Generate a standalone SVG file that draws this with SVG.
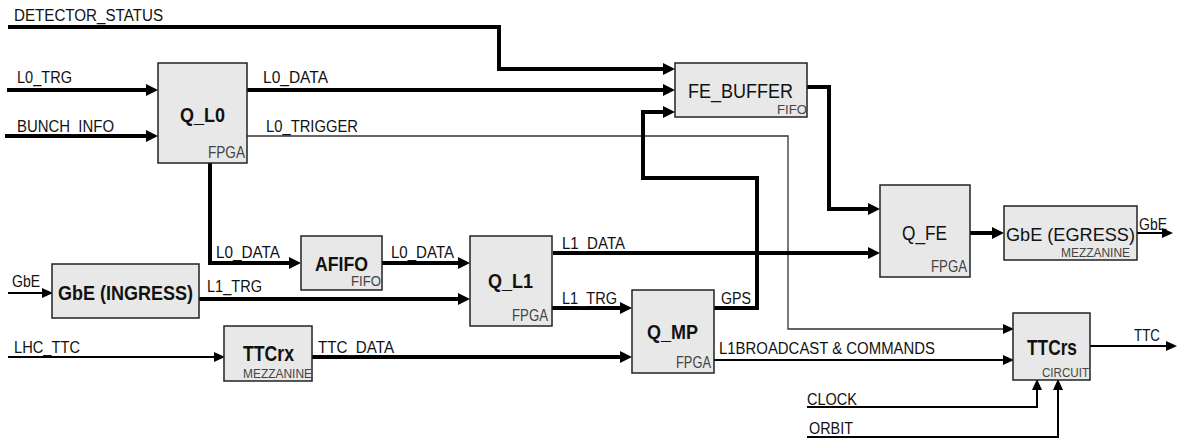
<svg xmlns="http://www.w3.org/2000/svg" width="1177" height="438" viewBox="0 0 1177 438">
<style>
text{font-family:"Liberation Sans",Arial,sans-serif;fill:#111}
.lbl{font-size:16px}
.ttl{font-size:21px;font-weight:bold}
.ttn{font-size:21px}
.sub{font-size:16px;fill:#444}
.box{fill:#e8e8e8;stroke:#222;stroke-width:1.5}
.thick{fill:none;stroke:#000;stroke-width:4;marker-end:url(#ah)}
.thin{fill:none;stroke:#000;stroke-width:2;marker-end:url(#ahs)}
.hair{fill:none;stroke:#333;stroke-width:1.3;marker-end:url(#ahs)}
</style>
<defs>
<marker id="ah" markerUnits="userSpaceOnUse" markerWidth="12" markerHeight="12" refX="6" refY="6" orient="auto" viewBox="0 0 12 12"><path d="M0,0 L12,6 L0,12 z" fill="#000"/></marker>
<marker id="ahs" markerUnits="userSpaceOnUse" markerWidth="11" markerHeight="10" refX="5" refY="5" orient="auto" viewBox="0 0 11 10"><path d="M0,0 L11,5 L0,10 z" fill="#000"/></marker>
</defs>
<g id="connectors">
<path class="thick" d="M8,27 H499 V69 H669"/>
<path class="thick" d="M7,90 H152"/>
<path class="thick" d="M5,136 H152"/>
<path class="thick" d="M247,90 H669"/>
<path class="hair" d="M247,136 H788 V329 H1008"/>
<path class="thick" d="M714,308 H757 V178 H643 V112 H669"/>
<path class="thick" d="M807,87 H829 V209 H874"/>
<path class="thick" d="M210,163 V263 H295"/>
<path class="thick" d="M382,263 H464"/>
<path class="thin" d="M8,293 H47"/>
<path class="thick" d="M199,299 H464"/>
<path class="thick" d="M553,253 H874"/>
<path class="thick" d="M552,308 H626"/>
<path class="thin" d="M8,357 H219"/>
<path class="thick" d="M312,357 H626"/>
<path class="thick" d="M970,233 H998"/>
<path class="thin" d="M1137,233 H1167"/>
<path class="thin" d="M714,360 H1008"/>
<path class="thin" d="M1090,346 H1171"/>
<path class="thin" d="M807,407 H1037 V385"/>
<path class="thin" d="M807,437 H1058 V385"/>
<text class="lbl" x="14" y="21" textLength="149" lengthAdjust="spacingAndGlyphs">DETECTOR_STATUS</text>
<text class="lbl" x="17" y="83" textLength="55" lengthAdjust="spacingAndGlyphs">L0_TRG</text>
<text class="lbl" x="17" y="132" textLength="97" lengthAdjust="spacingAndGlyphs">BUNCH_INFO</text>
<text class="lbl" x="263" y="83" textLength="65" lengthAdjust="spacingAndGlyphs">L0_DATA</text>
<text class="lbl" x="266" y="132" textLength="92" lengthAdjust="spacingAndGlyphs">L0_TRIGGER</text>
<text class="lbl" x="216" y="258" textLength="64" lengthAdjust="spacingAndGlyphs">L0_DATA</text>
<text class="lbl" x="391" y="258" textLength="63" lengthAdjust="spacingAndGlyphs">L0_DATA</text>
<text class="lbl" x="207" y="292" textLength="55" lengthAdjust="spacingAndGlyphs">L1_TRG</text>
<text class="lbl" x="12" y="287" textLength="28" lengthAdjust="spacingAndGlyphs">GbE</text>
<text class="lbl" x="14" y="353" textLength="66" lengthAdjust="spacingAndGlyphs">LHC_TTC</text>
<text class="lbl" x="318" y="353" textLength="76" lengthAdjust="spacingAndGlyphs">TTC_DATA</text>
<text class="lbl" x="562" y="249" textLength="63" lengthAdjust="spacingAndGlyphs">L1_DATA</text>
<text class="lbl" x="562" y="304" textLength="55" lengthAdjust="spacingAndGlyphs">L1_TRG</text>
<text class="lbl" x="721" y="304" textLength="30" lengthAdjust="spacingAndGlyphs">GPS</text>
<text class="lbl" x="719" y="354" textLength="216" lengthAdjust="spacingAndGlyphs">L1BROADCAST &amp; COMMANDS</text>
<text class="lbl" x="1134" y="341" textLength="26" lengthAdjust="spacingAndGlyphs">TTC</text>
<text class="lbl" x="807" y="405" textLength="50" lengthAdjust="spacingAndGlyphs">CLOCK</text>
<text class="lbl" x="809" y="434" textLength="44" lengthAdjust="spacingAndGlyphs">ORBIT</text>
<text class="lbl" x="1139" y="230" textLength="28" lengthAdjust="spacingAndGlyphs">GbE</text>
</g>
<g id="Q_L0">
<rect class="box" x="158" y="63" width="89" height="100"/>
<text class="ttl" x="180" y="122" textLength="45" lengthAdjust="spacingAndGlyphs">Q_L0</text>
<text class="sub" x="208" y="158" textLength="37" lengthAdjust="spacingAndGlyphs">FPGA</text>
</g>
<g id="FE_BUFFER">
<rect class="box" x="675" y="63" width="132" height="54"/>
<text class="ttn" x="688" y="98" textLength="105" lengthAdjust="spacingAndGlyphs">FE_BUFFER</text>
<text class="sub" x="777" y="114" textLength="30" lengthAdjust="spacingAndGlyphs" style="font-size:13px">FIFO</text>
</g>
<g id="Q_FE">
<rect class="box" x="880" y="185" width="90" height="92"/>
<text class="ttn" x="902" y="240" textLength="45" lengthAdjust="spacingAndGlyphs" style="font-size:20px">Q_FE</text>
<text class="sub" x="931" y="272" textLength="36" lengthAdjust="spacingAndGlyphs">FPGA</text>
</g>
<g id="GBE_EGRESS">
<rect class="box" x="1004" y="206" width="133" height="54"/>
<text class="ttn" x="1006" y="241" textLength="129" lengthAdjust="spacingAndGlyphs" style="font-size:19px">GbE (EGRESS)</text>
<text class="sub" x="1061" y="257" textLength="69" lengthAdjust="spacingAndGlyphs" style="font-size:12px">MEZZANINE</text>
</g>
<g id="AFIFO">
<rect class="box" x="301" y="236" width="81" height="54"/>
<text class="ttl" x="315" y="271" textLength="53" lengthAdjust="spacingAndGlyphs">AFIFO</text>
<text class="sub" x="351" y="286" textLength="30" lengthAdjust="spacingAndGlyphs" style="font-size:14px">FIFO</text>
</g>
<g id="GBE_INGRESS">
<rect class="box" x="52" y="264" width="147" height="54"/>
<text class="ttl" x="58" y="300" textLength="135" lengthAdjust="spacingAndGlyphs" style="font-size:20px">GbE (INGRESS)</text>
</g>
<g id="Q_L1">
<rect class="box" x="470" y="236" width="82" height="90"/>
<text class="ttl" x="488" y="288" textLength="45" lengthAdjust="spacingAndGlyphs">Q_L1</text>
<text class="sub" x="512" y="321" textLength="36" lengthAdjust="spacingAndGlyphs">FPGA</text>
</g>
<g id="Q_MP">
<rect class="box" x="632" y="290" width="82" height="83"/>
<text class="ttl" x="647" y="339" textLength="51" lengthAdjust="spacingAndGlyphs">Q_MP</text>
<text class="sub" x="676" y="368" textLength="35" lengthAdjust="spacingAndGlyphs">FPGA</text>
</g>
<g id="TTCrx">
<rect class="box" x="224" y="326" width="88" height="55"/>
<text class="ttl" x="243" y="361" textLength="51" lengthAdjust="spacingAndGlyphs" style="font-size:22px">TTCrx</text>
<text class="sub" x="243" y="378" textLength="69" lengthAdjust="spacingAndGlyphs" style="font-size:12.5px">MEZZANINE</text>
</g>
<g id="TTCrs">
<rect class="box" x="1013" y="313" width="77" height="67"/>
<text class="ttl" x="1027" y="355" textLength="50" lengthAdjust="spacingAndGlyphs" style="font-size:22px">TTCrs</text>
<text class="sub" x="1042" y="377" textLength="47" lengthAdjust="spacingAndGlyphs" style="font-size:12.5px">CIRCUIT</text>
</g>
</svg>
